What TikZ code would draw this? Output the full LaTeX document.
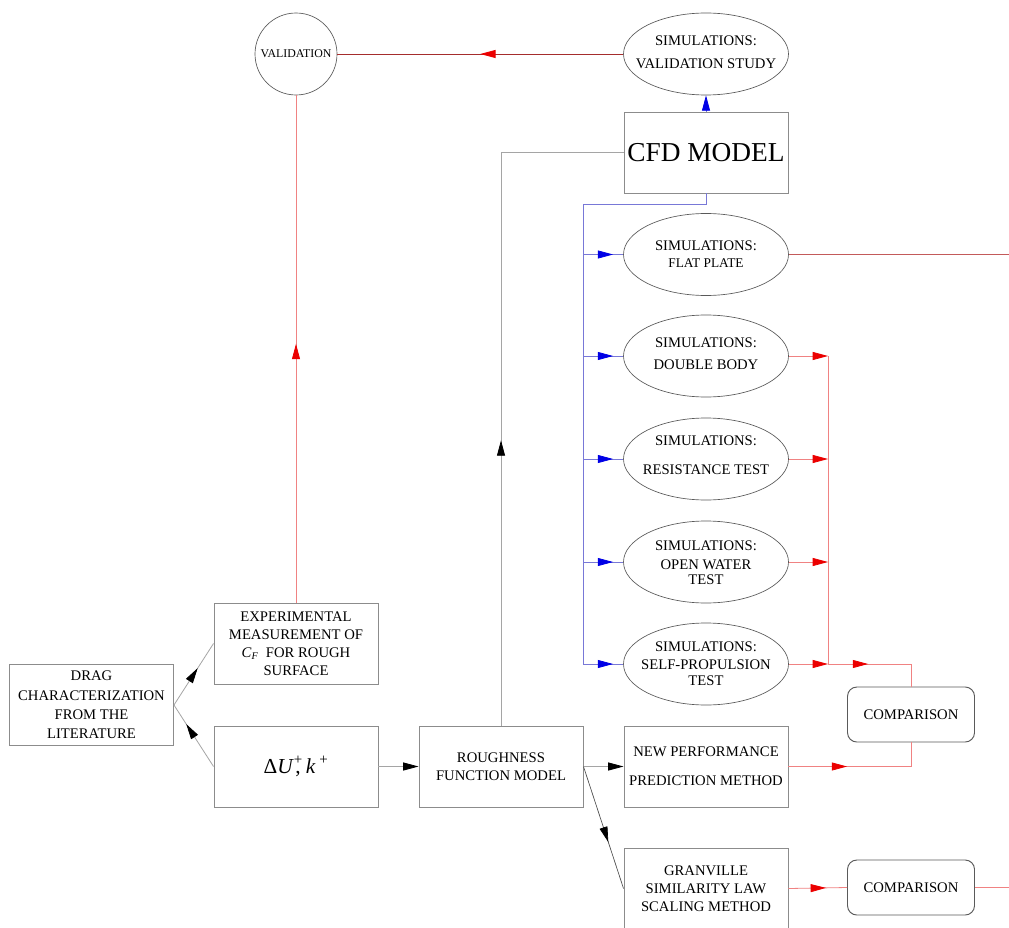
\documentclass[tikz,border=0pt]{standalone}
\usepackage{fontspec}
\setmainfont{Liberation Serif}
\usetikzlibrary{arrows.meta,shapes.geometric,decorations.markings}
\definecolor{boxgray}{RGB}{140,140,140}
\definecolor{ellgray}{RGB}{90,90,90}
\definecolor{lred}{RGB}{240,130,130}
\definecolor{dred}{RGB}{165,45,45}
\definecolor{mred}{RGB}{195,90,90}
\definecolor{lblue}{RGB}{120,120,215}
\definecolor{lgray}{RGB}{165,165,165}
\definecolor{arrred}{RGB}{235,0,0}
\definecolor{arrblue}{RGB}{0,0,230}
\newcommand\fs{\fontsize{11}{13.5}\selectfont}
\begin{document}
\begin{tikzpicture}[x=0.75pt,y=-0.75pt,
  sim/.style={ellipse, draw=ellgray, line width=0.5pt, minimum width=123.75pt, minimum height=61.5pt, inner sep=0pt},
  circ/.style={circle, draw=ellgray, line width=0.5pt, minimum size=61.5pt, inner sep=0pt},
  box/.style={rectangle, draw=boxgray, line width=0.7pt, minimum width=123pt, minimum height=60.75pt, align=center, inner sep=0.5pt, font=\fs},
  cmp/.style={box, rounded corners=7pt, minimum width=95.25pt, minimum height=41.25pt, draw=ellgray},
  txt/.style={align=center, inner sep=0pt, font=\fs},
  ln/.style={line width=0.6pt},
  redln/.style={ln, draw=lred},
  dredln/.style={ln, draw=dred},
  mredln/.style={ln, draw=mred},
  blueln/.style={ln, draw=lblue},
  grayln/.style={ln, draw=lgray},
  darkln/.style={line width=0.5pt, draw=black!70},
  endtip/.style={-{Triangle[length=11.5pt,width=6pt,color=#1]}},
  midarrow/.style 2 args={postaction={decorate}, decoration={markings, mark=at position #1 with {\arrow{Triangle[length=11.5pt,width=6pt,color=#2]}}}}
]
\useasboundingbox (0,0) rectangle (1009,927);
\fill[white] (0,0) rectangle (1009,927);

% nodes
\node[circ] (val) at (296,54) {};
\node[txt,font=\fontsize{8.9}{10}\selectfont] (valT) at (val.center) {VALIDATION};
\node[sim] (vstudy) at (706,54) {};
\node[txt] (vstudyT) at (706,52) {SIMULATIONS:\\[3.75pt]VALIDATION STUDY};
\node[box,font=\fontsize{20.5}{23}\selectfont] (cfd) at (706,152.5) {CFD MODEL};
\node[sim] (flat) at (706,254.5) {};
\node[txt] (flatT) at (706,254.5) {SIMULATIONS:\\[-0.75pt]{\fontsize{10}{12}\selectfont FLAT PLATE}};
\node[sim] (dbody) at (706,356) {};
\node[txt] (dbodyT) at (706,354) {SIMULATIONS:\\[3pt]DOUBLE BODY};
\node[sim] (resist) at (706,459) {};
\node[txt] (resistT) at (706,455.5) {SIMULATIONS:\\[8.25pt]RESISTANCE TEST};
\node[sim] (openw) at (706,562) {};
\node[txt] (openwT) at (706,563) {SIMULATIONS:\\[0.75pt]OPEN WATER\\[-2.25pt]TEST};
\node[sim] (selfp) at (706,664) {};
\node[txt] (selfpT) at (706,664) {SIMULATIONS:\\SELF-PROPULSION\\[-1.5pt]TEST};
\node[box] (drag) at (91.5,705) {DRAG\\[1.1pt]CHARACTERIZATION\\[1.1pt]FROM THE\\[1.1pt]LITERATURE};
\node[box] (exp) at (296,643.5) {EXPERIMENTAL\\MEASUREMENT OF\\\textit{C}\textsubscript{\textit{F}}\ \ FOR ROUGH\\SURFACE};
\node[box] (dU) at (296,766.5) {{\fontsize{16}{18}\selectfont Δ\textit{U}\rlap{\textsuperscript{+}}\kern1pt,\ \textit{k}\,\textsuperscript{+}}};
\node[box] (rough) at (501,766.5) {ROUGHNESS\\FUNCTION MODEL};
\node[box] (newp) at (706,766.5) {NEW PERFORMANCE\\[8.25pt]PREDICTION METHOD};
\node[box] (gran) at (706,888.5) {GRANVILLE\\SIMILARITY LAW\\SCALING METHOD};
\node[cmp] (comp1) at (911,714.5) {COMPARISON};
\node[cmp] (comp2) at (911,887.5) {COMPARISON};
\coordinate (redge) at (1009,0);
\coordinate (busx) at (828,0);
\coordinate (bt) at (583,204);

% connectors
\draw[dredln, midarrow={0.5}{arrred}] (vstudy.west) -- (val.east);
\draw[blueln, endtip=arrblue] (cfd.north) -- (vstudy.south);
\draw[grayln, midarrow={0.41}{black}] (rough.north) |- (cfd.west);
\draw[blueln] (cfd.south) |- (bt) -- (bt |- selfp.west);
\foreach \e in {flat,dbody,resist,openw,selfp}{
  \draw[blueln, midarrow={0.75}{arrblue}] (bt |- \e.west) -- (\e.west);
}
\draw[mredln] (flat.east) -- (flat.east -| redge);
\foreach \e in {dbody,resist,openw,selfp}{
  \draw[redln, endtip=arrred] (\e.east) -- (\e.east -| busx);
}
\draw[redln] (dbody.east -| busx) -- (selfp.east -| busx);
\draw[redln, midarrow={0.38}{arrred}] (selfp.east -| busx) -| (comp1.north);
\draw[redln, midarrow={0.40}{arrred}] (newp.east) -| (comp1.south);
\draw[redln, midarrow={0.64}{arrred}] (gran.east) -- (comp2.west);
\draw[redln] (comp2.east) -- (comp2.east -| redge);
\draw[redln, midarrow={0.51}{arrred}] (exp.north) -- (val.south);
\draw[grayln, midarrow={0.6}{black}] (drag.east) -- (exp.west);
\draw[grayln, midarrow={0.69}{black}] (dU.west) -- (drag.east);
\draw[grayln, endtip=black] (dU.east) -- (rough.west);
\draw[grayln, endtip=black] (rough.east) -- (newp.west);
\draw[darkln, midarrow={0.62}{black}] (rough.east) -- (gran.west);
\end{tikzpicture}
\end{document}
